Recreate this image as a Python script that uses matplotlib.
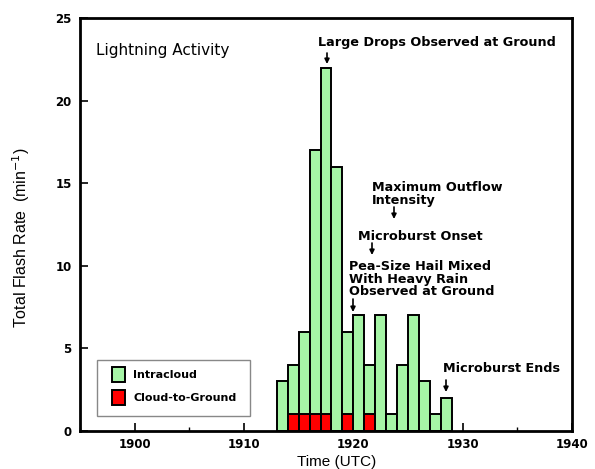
import matplotlib
matplotlib.use("Agg")
import matplotlib.pyplot as plt
from matplotlib.patches import Rectangle
from matplotlib.ticker import MultipleLocator

# ---- data ----
minutes = [1913, 1914, 1915, 1916, 1917, 1918, 1919, 1920, 1921, 1922,
           1923, 1924, 1925, 1926, 1927, 1928]
total_rate = [3, 4, 6, 17, 22, 16, 6, 7, 4, 7, 1, 4, 7, 3, 1, 2]
cg_minutes = [1914, 1915, 1916, 1917, 1919, 1921]
cg_rate = [1, 1, 1, 1, 1, 1]
x_ticks = [1900, 1910, 1920, 1930, 1940]
y_ticks = [0, 5, 10, 15, 20, 25]
legend_labels = ["Intracloud", "Cloud-to-Ground"]

GREEN = "#a6f5a6"
RED = "#ff0000"

fig = plt.figure(figsize=(5.95, 4.69), dpi=100)
L, R, B, T = 80, 572, 431, 18
W, H = 595, 469
ax = fig.add_axes([L / W, (H - B) / H, (R - L) / W, (B - T) / H])
ax.set_xlim(1895, 1940)
ax.set_ylim(0, 25)

ax.bar(minutes, total_rate, width=1.0, align="edge", color=GREEN,
       edgecolor="black", linewidth=1.4, zorder=2)
ax.bar(cg_minutes, cg_rate, width=1.0, align="edge", color=RED,
       edgecolor="black", linewidth=1.4, zorder=3)

for s in ax.spines.values():
    s.set_linewidth(2)

ax.set_xticks(x_ticks)
ax.set_yticks(y_ticks)
ax.xaxis.set_minor_locator(MultipleLocator(5))
ax.tick_params(axis="both", which="major", direction="in", length=6, width=1.2,
               labelsize=8.5)
ax.tick_params(axis="x", which="minor", direction="in", length=3, width=1.0)
ax.tick_params(axis="x", pad=5)
ax.tick_params(axis="y", pad=6)
for lab in ax.get_xticklabels() + ax.get_yticklabels():
    lab.set_fontweight("bold")
    lab.set_family("DejaVu Sans")


def axf(xp, yp):
    return ((xp - L) / (R - L), (B - yp) / (B - T))


def px(xp, yp):
    fx, fy = axf(xp, yp)
    return (1895 + fx * 45, fy * 25)


ax.set_ylabel("Total Flash Rate  (min$^{-1}$)", fontsize=11.5,
              family="Liberation Sans")
ax.yaxis.set_label_coords(*axf(32, 238))
ax.set_xlabel("Time (UTC)", fontsize=11, family="Liberation Sans")
ax.xaxis.set_label_coords(*axf(337, 462))
ax.xaxis.label.set_va("center")

ax.text(*px(96, 50), "Lightning Activity", fontsize=11, family="DejaVu Sans",
        va="center", ha="left")

tfont = dict(fontsize=9.2, family="DejaVu Sans", fontweight="bold",
             va="center", ha="left", linespacing=0.95)
ax.text(*px(318, 43), "Large Drops Observed at Ground", **tfont)
ax.text(*px(372, 194), "Maximum Outflow\nIntensity", **tfont)
ax.text(*px(358, 236), "Microburst Onset", **tfont)
ax.text(*px(349, 279), "Pea-Size Hail Mixed\nWith Heavy Rain\nObserved at Ground", **tfont)
ax.text(*px(443, 369), "Microburst Ends", **tfont)

arrows = [(327, 53, 64), (394, 207, 219), (372, 243, 255), (353, 299, 312),
          (446, 380, 392)]
for xa, y0, y1 in arrows:
    ax.annotate("", xy=px(xa, y1), xytext=px(xa, y0),
                arrowprops=dict(arrowstyle="-|>", color="black", lw=1.2,
                                mutation_scale=7, shrinkA=0, shrinkB=0))

# legend box drawn in axes fraction
fx0, fy1 = axf(97, 360)
fx1, fy0 = axf(250, 416)
ax.add_patch(Rectangle((fx0, fy0), fx1 - fx0, fy1 - fy0, transform=ax.transAxes,
                       facecolor="white", edgecolor="#888888", linewidth=1.0,
                       zorder=5))
for (ytop, ybot), col, lab in zip([(367, 382), (390, 405)], [GREEN, RED], legend_labels):
    hx0, hy1 = axf(112, ytop)
    hx1, hy0 = axf(125, ybot)
    ax.add_patch(Rectangle((hx0, hy0), hx1 - hx0, hy1 - hy0, transform=ax.transAxes,
                           facecolor=col, edgecolor="black", linewidth=1.4, zorder=6))
    tx, ty = axf(133, (ytop + ybot) / 2)
    ax.text(tx, ty, lab, transform=ax.transAxes, fontsize=8, family="DejaVu Sans",
            fontweight="bold", va="center", ha="left", zorder=7)

fig.savefig("out.png", dpi=100)
